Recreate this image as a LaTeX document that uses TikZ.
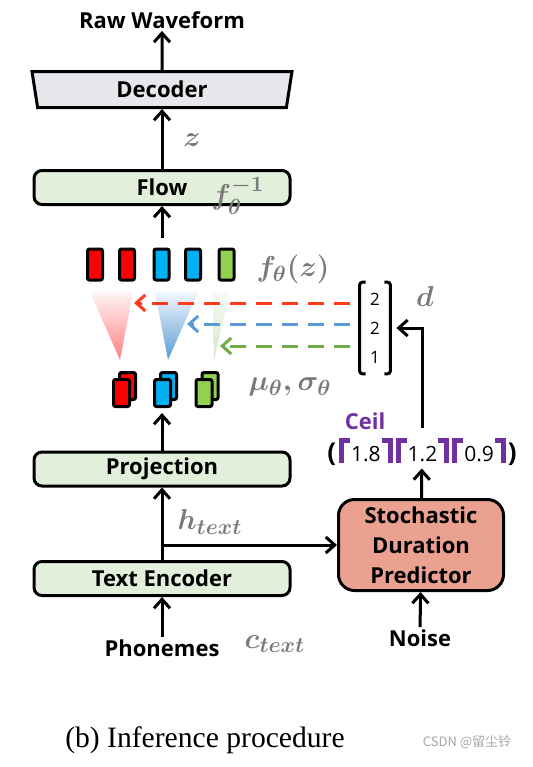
\documentclass[tikz,border=0pt]{standalone}
\usepackage{amsmath,bm}
\usepackage[no-math]{fontspec}
\setsansfont{Open Sans}
\setmainfont{Liberation Serif}
\newfontfamily\cjkfont{Noto Sans CJK SC}
\usetikzlibrary{arrows.meta, positioning, calc, shapes.geometric}
\definecolor{boxgreen}{HTML}{E2EFDA}
\definecolor{decgray}{HTML}{E7E6EB}
\definecolor{sdpfill}{HTML}{EBA190}
\definecolor{labgray}{HTML}{7A7A7A}
\definecolor{barred}{HTML}{FF0000}
\definecolor{barblue}{HTML}{00B0F0}
\definecolor{bargreen}{HTML}{92D050}
\definecolor{dred}{HTML}{FF3B1C}
\definecolor{dblue}{HTML}{5B9BD5}
\definecolor{dgreen}{HTML}{70AD47}
\definecolor{ceilc}{HTML}{7030A0}
\newcommand\ceilopen{\kern1.5pt\textcolor{ceilc}{\rule[-0.5pt]{2.5pt}{12.5pt}\rule[9.5pt]{3pt}{2.5pt}}\kern0.5pt}
\newcommand\ceilclose{\kern0.5pt\textcolor{ceilc}{\rule[9.5pt]{3pt}{2.5pt}\rule[-0.5pt]{2.5pt}{12.5pt}}}

\begin{document}
\begin{tikzpicture}[x=0.5pt, y=-0.5pt,
    every node/.style={font=\sffamily\bfseries\fontsize{11}{13}\selectfont, inner sep=1pt},
    blk/.style={rectangle, rounded corners=4pt, draw=black, fill=boxgreen,
                line width=1.5pt, minimum width=128pt, minimum height=17pt},
    decbox/.style={trapezium, shape border rotate=180, trapezium angle=75,
                trapezium stretches body, draw=black, fill=decgray,
                line width=1.5pt, minimum width=130pt, minimum height=18pt},
    sdpbox/.style={rectangle, rounded corners=8pt, draw=black, fill=sdpfill,
                line width=1.5pt, minimum width=82.5pt, minimum height=45.5pt,
                align=center, font=\sffamily\bfseries\fontsize{11}{15}\selectfont},
    bar/.style={rectangle, rounded corners=1pt, draw=black, line width=1.5pt,
                minimum width=7.5pt, minimum height=15.5pt, inner sep=0pt},
    sbar/.style={bar, minimum width=8pt, minimum height=13.5pt},
    mlab/.style={text=labgray, font=\fontsize{15}{17}\selectfont\boldmath},
    num/.style={font=\sffamily\fontsize{8.5}{14.5}\selectfont, align=center},
    brk/.style={line width=1.5pt, rounded corners=1.5pt},
    arr/.style={-{Straight Barb[length=4.5pt, width=8pt]}, line width=1.5pt, color=black},
    darr/.style={arr, dash pattern=on 8pt off 5pt},
]
\useasboundingbox (0,0) rectangle (532,767);

% ================================================================ decoder side
\node (raw) at (162,20) {Raw Waveform};
\node[decbox] (dec) at (162,89.5) {Decoder};
\node[blk] (flow) at (162,187.5) {Flow};
\node[mlab] (finv) at (238,196) {$\bm{f_\theta^{-1}}$};
\node[mlab] (zl) at (192,140) {$\bm{z}$};
\draw[arr] (dec) -- (raw);
\draw[arr] (flow) -- (dec);

% expanded frames
\foreach \x/\c [count=\i] in {95/barred, 127/barred, 161.5/barblue, 193/barblue, 226.5/bargreen}{
    \node[bar, fill=\c] (f\i) at (\x,264.5) {};
}
\node[mlab] (fzl) at (293,269) {$\bm{f_\theta(z)}$};
\coordinate (ftop) at (162,238);
\draw[arr] (ftop) -- (flow);

% the cones
\shade[top color=red!4, bottom color=red!50] (90,292) -- (133,292) -- (120,360) -- cycle;
\shade[top color=dblue!8, bottom color=dblue] (155,292) -- (198,292) -- (168,360) -- cycle;
\shade[top color=dgreen!5, bottom color=dgreen!30] (213,292) -- (230,292) -- (214,360) -- cycle;

% durations pulled in from the right
\coordinate (r0) at (350,303); \coordinate (r1) at (134,303);
\coordinate (b0) at (350,324); \coordinate (b1) at (187,324);
\coordinate (g0) at (350,346); \coordinate (g1) at (220,346);
\draw[darr, color=dred] (r0) -- (r1);
\draw[darr, color=dblue] (b0) -- (b1);
\draw[darr, color=dgreen] (g0) -- (g1);

% prior statistics
\foreach \x/\c [count=\i] in {121.5/barred, 162.5/barblue, 204/bargreen}{
    \node[sbar, fill=\c] (s\i) at (\x+6,386) {};
    \node[sbar, fill=\c] (m\i) at (\x,393) {};
}
\node[mlab] (msl) at (290,387) {$\bm{\mu_\theta,\sigma_\theta}$};

% ================================================================ text side
\node[blk] (proj) at (162,469) {Projection};
\node[blk] (te) at (162,578.5) {Text Encoder};
\node (phon) at (162,648) {Phonemes};
\node[mlab] (ctl) at (275,644) {$\bm{c_{text}}$};
\node[mlab] (htl) at (210,522) {$\bm{h_{text}}$};
\coordinate (mtop) at (162,413);
\coordinate (br) at (162,545);
\draw[arr] (phon) -- (te);
\draw[arr] (te) -- (proj);
\draw[arr] (proj) -- (mtop);

% ================================================================ durations
\node[sdpbox] (sdp) at (421,545) {Stochastic\\Duration\\Predictor};
\draw[arr] (br) -- (sdp.west |- br);
\node (noise) at (420,638) {Noise};
\draw[arr] (noise) -- (sdp);
\node[font=\sffamily\fontsize{10.5}{13}\selectfont] (ceil) at (422,452)
    {{\bfseries\fontsize{13}{15}\selectfont(}\ceilopen 1.8\ceilclose\ceilopen 1.2\ceilclose\ceilopen 0.9\ceilclose\kern1pt{\bfseries\fontsize{13}{15}\selectfont)}};
\node[text=ceilc] (ceill) at (365,421) {Ceil};
\draw[arr] (sdp) -- (ceil);
\node[num, minimum width=15pt, minimum height=45.5pt, inner sep=0pt] (vec) at (375,328) {2\\2\\1};
\draw[brk] ([xshift=3pt]vec.north west) -- (vec.north west) -- (vec.south west) -- ([xshift=3pt]vec.south west);
\draw[brk] ([xshift=-3pt]vec.north east) -- (vec.north east) -- (vec.south east) -- ([xshift=-3pt]vec.south east);
\node[mlab] (dl) at (425,296) {$\bm{d}$};
\draw[arr] ([yshift=4pt]ceil.north) |- ([xshift=3pt]vec.east);

% ================================================================ caption
\node[font=\rmfamily\fontsize{14.8}{17}\selectfont] (cap) at (205,740) {(b) Inference procedure};
\node[font=\cjkfont\fontsize{6.5}{8}\selectfont, text=gray!70] (wm) at (467,742) {CSDN @留尘铃};
\end{tikzpicture}
\end{document}
